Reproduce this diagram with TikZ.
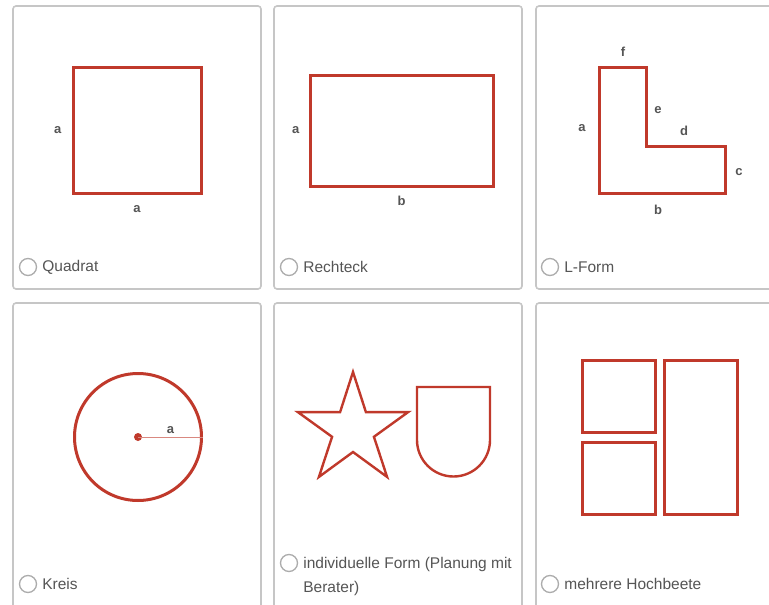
\documentclass[tikz,border=0pt]{standalone}
\usepackage{fontspec}
\setmainfont{Liberation Sans}
\usepackage{xcolor}
\usetikzlibrary{positioning, calc}
\definecolor{bedred}{HTML}{C0392B}
\definecolor{cardgray}{HTML}{C6C6C6}
\definecolor{textgray}{HTML}{555555}
\tikzset{
    card/.style={rectangle, draw=cardgray, line width=1.6pt, rounded corners=3pt, minimum width=248, inner sep=0pt},
    bed/.style={rectangle, draw=bedred, line width=3pt, inner sep=0pt},
    freeform/.style={draw=bedred, line width=2.4pt, line join=miter},
    dim/.style={font=\bfseries\fontsize{13}{13}\selectfont, text=textgray, inner sep=0pt},
    radio/.style={circle, draw=gray!65, line width=1.3pt, minimum size=17, inner sep=0pt},
    option/.style={font=\fontsize{15.5}{24}\selectfont, text=textgray, inner sep=0pt}
}

\begin{document}
\begin{tikzpicture}[x=1pt, y=-1pt]
    \useasboundingbox (0,0) rectangle (769,605);
    \clip (0,0) rectangle (769,605);
    \fill[white] (0,0) rectangle (769,605);

    % Cards
    \node (card_quadrat) [card, minimum height=283] at (137,147.5) {};
    \node (card_rechteck) [card, minimum height=283] at (398,147.5) {};
    \node (card_lform) [card, minimum height=283] at (660,147.5) {};
    \node (card_kreis) [card, minimum height=320] at (137,463) {};
    \node (card_indiv) [card, minimum height=320] at (398,463) {};
    \node (card_mehrere) [card, minimum height=320] at (660,463) {};

    % Quadrat
    \node (quadrat) [bed, minimum width=128, minimum height=126] at (137,130) {};
    \node (quadrat_a) [dim, left=10pt of quadrat] {a};
    \node (quadrat_b) [dim, below=11pt of quadrat] {a};
    \node (quadrat_radio) [radio] at (28,267) {};
    \node (quadrat_text) [option, right=5pt of quadrat_radio] {Quadrat};

    % Rechteck
    \node (rechteck) [bed, minimum width=183, minimum height=111] at (401.5,130.5) {};
    \node (rechteck_a) [dim, left=9pt of rechteck] {a};
    \node (rechteck_b) [dim, below=8pt of rechteck] {b};
    \node (rechteck_radio) [radio] at (289,267) {};
    \node (rechteck_text) [option, right=5pt of rechteck_radio] {Rechteck};

    % L-Form
    \draw[bedred, line width=3pt] (599,67) -- (646,67) -- (646,146) -- (725,146) -- (725,193) -- (599,193) -- cycle;
    \node (lform_f) [dim] at (623,52) {f};
    \node (lform_e) [dim] at (658,110) {e};
    \node (lform_d) [dim] at (684,131) {d};
    \node (lform_a) [dim] at (582,128) {a};
    \node (lform_c) [dim] at (739,172) {c};
    \node (lform_b) [dim] at (658,210) {b};
    \node (lform_radio) [radio] at (550,267) {};
    \node (lform_text) [option, right=5pt of lform_radio] {L-Form};

    % Kreis
    \node (kreis) [circle, draw=bedred, line width=3pt, minimum size=127, inner sep=0pt] at (138,437) {};
    \node (kreis_center) [circle, fill=bedred, minimum size=8, inner sep=0pt] at (138,437) {};
    \draw[bedred!60, line width=1pt] (kreis_center.center) -- (kreis.east) node[dim, midway, above=3pt] {a};
    \node (kreis_radio) [radio] at (28,584) {};
    \node (kreis_text) [option, right=5pt of kreis_radio] {Kreis};

    % individuelle Form
    \draw[freeform] (353,372) \foreach \ang in {90,162,...,378} {
        -- ({353+22*cos(\ang+36)},{430-22*sin(\ang+36)}) -- ({353+58*cos(\ang+72)},{430-58*sin(\ang+72)})
    } -- cycle;
    \draw[freeform] (417,387) -- (490,387) -- (490,440) arc[start angle=0, end angle=180, radius=36.5] -- cycle;
    \node (indiv_radio) [radio] at (289,563) {};
    \node (indiv_text) [option, anchor=north west, align=left] at ($(indiv_radio.east)+(5,-6)$) {individuelle Form (Planung mit\\Berater)};

    % mehrere Hochbeete
    \node (beet_oben) [bed, minimum width=73, minimum height=72] at (618.5,396) {};
    \node (beet_unten) [bed, minimum width=73, minimum height=72] at (618.5,478) {};
    \node (beet_lang) [bed, minimum width=73, minimum height=154] at (700.5,437) {};
    \node (mehrere_radio) [radio] at (550,584) {};
    \node (mehrere_text) [option, right=5pt of mehrere_radio] {mehrere Hochbeete};
\end{tikzpicture}
\end{document}
